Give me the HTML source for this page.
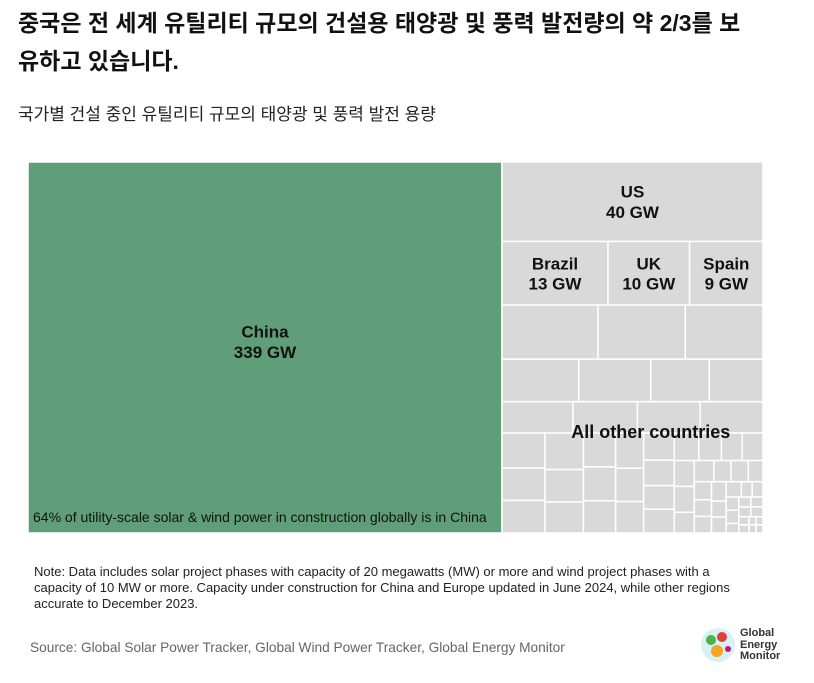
<!DOCTYPE html>
<html><head><meta charset="utf-8">
<style>
body{margin:0;width:814px;height:683px;background:#fff;font-family:"Liberation Sans","Noto Sans CJK KR",sans-serif;color:#111;position:relative;overflow:hidden}
.t{position:absolute;left:18px;top:4px;font-size:23px;font-weight:bold;line-height:38px;width:742px}
.st{position:absolute;left:18px;top:100px;font-size:17px;color:#222}
.note{position:absolute;left:34px;top:564px;font-size:13px;line-height:16px;width:722px;color:#222}
.src{position:absolute;left:30px;top:640px;font-size:13.7px;color:#666}
.logo{position:absolute;left:700px;top:627px;width:100px;height:38px}
svg text{font-family:"Liberation Sans","Noto Sans CJK KR",sans-serif}
</style></head><body>
<div class="t">중국은 전 세계 유틸리티 규모의 건설용 태양광 및 풍력 발전량의 약 2/3를 보유하고 있습니다.</div>
<div class="st">국가별 건설 중인 유틸리티 규모의 태양광 및 풍력 발전 용량</div>
<svg id="tm" style="position:absolute;left:0;top:0" width="814" height="560"></svg>
<div class="note">Note: Data includes solar project phases with capacity of 20 megawatts (MW) or more and wind project phases with a capacity of 10 MW or more. Capacity under construction for China and Europe updated in June 2024, while other regions accurate to December 2023.</div>
<div class="src">Source: Global Solar Power Tracker, Global Wind Power Tracker, Global Energy Monitor</div>
<div class="logo">
<svg width="36" height="36" style="position:absolute;left:0;top:0"><circle cx="18" cy="18" r="17" fill="#d8f1f5"/><circle cx="11" cy="13" r="5" fill="#4bb543"/><circle cx="22" cy="10" r="5" fill="#e0403a"/><circle cx="17" cy="24" r="6" fill="#f5a623"/><circle cx="28" cy="22" r="3" fill="#c2187a"/></svg>
<div style="position:absolute;left:40px;top:1px;font-size:11px;font-weight:bold;line-height:11.5px;color:#333">Global<br>Energy<br>Monitor</div></div>
<script>
const countries=["China","US","Brazil","UK","Spain"];
const values=[339,40,13,10,9];
const otherValues=[10.0,9.1,8.1,6.3,5.9,4.8,4.4,4.3,3.9,3.8,3.8,2.9,2.7,2.7,2.7,2.4,2.3,2.1,2.1,2.0,1.9,1.8,1.7,1.6,1.5,1.4,1.4,1.3,1.2,1.1,1.1,1.0,1.0,0.8,0.8,0.7,0.7,0.6,0.6,0.55,0.55,0.55,0.45,0.45,0.45,0.32,0.32,0.32,0.32,0.23,0.23,0.23,0.23,0.23,0.16,0.16,0.11,0.11,0.11,0.11];
const NS="http://www.w3.org/2000/svg";
const svg=document.getElementById('tm');
const X0=28,Y0=162,W=735,H=371;
const othersSum=otherValues.reduce((a,b)=>a+b,0);
const total=values.reduce((a,b)=>a+b,0)+othersSum;
function rect(x,y,w,h,fill,name){const r=document.createElementNS(NS,'rect');
r.setAttribute('x',x);r.setAttribute('y',y);r.setAttribute('width',Math.max(0,w));r.setAttribute('height',Math.max(0,h));
r.setAttribute('fill',fill);r.setAttribute('stroke','#fff');r.setAttribute('stroke-width','1.5');


svg.appendChild(r);}
function label(x,y,lines,size,name,anchor,weight){const t=document.createElementNS(NS,'text');
t.setAttribute('x',x);t.setAttribute('y',y);t.setAttribute('text-anchor',anchor||'middle');t.setAttribute('font-size',size);
t.setAttribute('font-weight',weight||'bold');t.setAttribute('fill','#111');


lines.forEach((l,i)=>{const s=document.createElementNS(NS,'tspan');s.setAttribute('x',x);s.setAttribute('dy',i?size*1.2:0);s.textContent=l;t.appendChild(s);});
svg.appendChild(t);}
const cw=W*values[0]/total;
rect(X0,Y0,cw,H,'#5f9e78','rect-china');
label(X0+cw/2,Y0+H/2-10,[countries[0],values[0]+' GW'],17,'label-china');
label(X0+5,Y0+H-11,['64% of utility-scale solar & wind power in construction globally is in China'],14,'china-share-note','start','normal');
const rx=X0+cw,rw=W-cw,rest=total-values[0];
const uh=H*values[1]/rest;
rect(rx,Y0,rw,uh,'#d9d9d9','rect-us');
label(rx+rw/2,Y0+uh/2-4,[countries[1],values[1]+' GW'],17,'label-us');
const rowSum=values[2]+values[3]+values[4];
const bh=H*rowSum/rest;let cx=rx;
for(let i=2;i<5;i++){const w=rw*values[i]/rowSum;
rect(cx,Y0+uh,w,bh,'#d9d9d9','rect-'+countries[i].toLowerCase());
label(cx+w/2,Y0+uh+bh/2-4,[countries[i],values[i]+' GW'],17,'label-'+countries[i].toLowerCase());cx+=w;}
const oy=Y0+uh+bh,oh=H-uh-bh;
function worst(row,len,scale){const s=row.reduce((a,b)=>a+b,0)*scale;const mx=Math.max(...row)*scale,mn=Math.min(...row)*scale;return Math.max(len*len*mx/(s*s),s*s/(len*len*mn));}
function squarify(vals,x,y,w,h){const scale=w*h/vals.reduce((a,b)=>a+b,0);let i=0,idx=11;
while(i<vals.length){const len=Math.min(w,h);let row=[vals[i]];i++;
while(i<vals.length&&worst(row.concat(vals[i]),len,scale)<=worst(row,len,scale)){row.push(vals[i]);i++;}
const s=row.reduce((a,b)=>a+b,0)*scale;
if(w>=h){const rwd=s/h;let yy=y;row.forEach(v=>{const hh=v*scale/rwd;rect(x,yy,rwd,hh,'#d9d9d9','rect-other-'+(idx++));yy+=hh;});x+=rwd;w-=rwd;}
else{const rh=s/w;let xx=x;row.forEach(v=>{const ww=v*scale/rh;rect(xx,y,ww,rh,'#d9d9d9','rect-other-'+(idx++));xx+=ww;});y+=rh;h-=rh;}}}
function rowsLayout(){
const rows=[[0,3],[3,7],[7,11]];let y=oy;const scale=rw*oh/othersSum;
rows.forEach(([a,b])=>{const r=otherValues.slice(a,b);const s=r.reduce((p,q)=>p+q,0);const h=s*scale/rw;let x=rx;
r.forEach((v,k)=>{const w=rw*v/s;rect(x,y,w,h,'#d9d9d9','rect-other-'+(a+k));x+=w;});y+=h;});
squarify(otherValues.slice(11),rx,y,rw,oy+oh-y);}
rowsLayout();
label(rx+rw*0.57,Y0+H-95,['All other countries'],18,'label-other');
</script>
</body></html>
